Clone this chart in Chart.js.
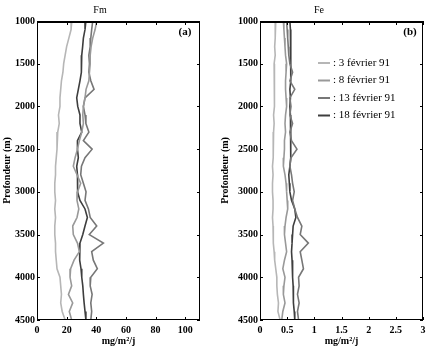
<!DOCTYPE html>
<html>
<head>
	<meta charset="UTF-8">
	<title>Fm / Fe</title>
	<script src="https://cdn.jsdelivr.net/npm/chart.js@4.4.1/dist/chart.umd.min.js"></script>
	<style>
		body { margin: 0; background: #fff; }
		#wrap { position: relative; width: 430px; height: 349px; }
		#wrap canvas { position: absolute; top: 0; }
	</style>
</head>
<body>
<div id="wrap">
	<canvas id="chart_fm" width="215" height="349" style="left:0"></canvas>
	<canvas id="chart_fe" width="215" height="349" style="left:215px"></canvas>
</div>
<script>
	// profondeurs (m), pas de 100 m
	var depths = [1000,1100,1200,1300,1400,1500,1600,1700,1800,1900,2000,2100,2200,2300,2400,2500,2600,2700,2800,2900,
		3000,3100,3200,3300,3400,3500,3600,3700,3800,3900,4000,4100,4200,4300,4400,4500];
	var dates = ['3 février 91', '8 février 91', '13 février 91', '18 février 91'];
	var colors = ['#b6b6b6', '#999999', '#777777', '#3e3e3e'];

	// Fm (mg/m2/j)
	var fm3  = [23.5,23,21.5,20,19,18,17.5,16.5,16,15.5,15.5,14.5,15,14,13.5,13.5,13,12.5,12.5,12,12,12.5,12,12.5,12,12,12.5,12.5,13,13.5,15.5,16,16.5,16,17,19];
	var fm8  = [40.3,39.2,37.6,36.5,35.9,35.9,35.4,35,33.1,32.4,31.3,30.9,31.3,30.2,28.6,27.3,25.7,24.5,27,29.5,27.3,27,28.2,27,24.1,24.5,27.3,28.6,25,22.7,22.3,23.4,21.2,24.1,21.8,23.4];
	var fm13 = [37.6,36.9,36.3,35.9,35,35.4,35,36.3,38.5,32.4,31.3,32.4,33,35,31.3,37.2,32.4,30,29.5,31.3,33.1,32.4,34.7,35.9,40.3,35.3,44.8,36.9,38,40.7,36.3,35.9,37.2,36.3,36.9,36.3];
	var fm18 = [33,32.4,31.3,30.8,30.2,29.7,30.2,29,27.9,26.8,27.5,29,29,30.2,27.3,27.3,27.9,26.8,27.3,27.5,27.3,29,32.4,34,32.4,30.9,29,28.6,29,29.7,30.2,30.9,31.3,31.8,32.4,33];

	// Fe (mg/m2/j)
	var fe3  = [0.29,0.28,0.28,0.27,0.28,0.26,0.27,0.27,0.26,0.27,0.26,0.25,0.26,0.25,0.24,0.25,0.24,0.23,0.24,0.23,0.23,0.24,0.24,0.23,0.24,0.25,0.24,0.26,0.27,0.29,0.31,0.31,0.32,0.34,0.33,0.37];
	var fe8  = [0.43,0.44,0.45,0.46,0.47,0.49,0.48,0.47,0.47,0.48,0.49,0.47,0.46,0.47,0.45,0.45,0.44,0.43,0.46,0.48,0.49,0.50,0.51,0.48,0.46,0.45,0.47,0.49,0.45,0.42,0.46,0.44,0.43,0.46,0.42,0.40];
	var fe13 = [0.49,0.50,0.51,0.52,0.53,0.55,0.60,0.55,0.64,0.55,0.57,0.55,0.60,0.55,0.58,0.68,0.57,0.55,0.58,0.60,0.63,0.60,0.64,0.69,0.77,0.74,0.89,0.74,0.77,0.80,0.71,0.72,0.69,0.72,0.69,0.71];
	var fe18 = [0.55,0.56,0.57,0.56,0.57,0.57,0.56,0.57,0.55,0.56,0.55,0.56,0.57,0.56,0.57,0.57,0.56,0.55,0.53,0.54,0.55,0.58,0.64,0.66,0.61,0.60,0.59,0.58,0.59,0.60,0.60,0.61,0.61,0.62,0.63,0.64];

	var depthTicks = [1000,1500,2000,2500,3000,3500,4000,4500];
	var fmTicks = [0,20,40,60,80,100];
	var feTicks = [0,0.5,1,1.5,2,2.5,3];

	var serif = "'Liberation Serif', 'Times New Roman', serif";

	function toPoints(values) {
		return values.map(function(v, i) { return {x: v, y: depths[i]}; });
	}

	// cadre + graduations vers l'intérieur (style matlab)
	var framePlugin = {
		id: 'frame',
		afterDraw: function(chart) {
			var a = chart.chartArea, ctx = chart.ctx;
			var xs = chart.scales.x, ys = chart.scales.y;
			ctx.save();
			ctx.strokeStyle = '#000';
			ctx.lineWidth = 1;
			ctx.strokeRect(a.left + 0.5, a.top + 0.5, a.right - a.left - 1, a.bottom - a.top - 1);
			ctx.lineWidth = 2;
			ctx.beginPath(); ctx.moveTo(a.left, a.top + 1); ctx.lineTo(a.right, a.top + 1); ctx.stroke();
			ctx.lineWidth = 1;
			ctx.beginPath();
			xs.ticks.forEach(function(t) {
				var px = Math.round(xs.getPixelForValue(t.value)) + 0.5;
				ctx.moveTo(px, a.bottom); ctx.lineTo(px, a.bottom - 3);
				ctx.moveTo(px, a.top); ctx.lineTo(px, a.top + 4);
			});
			ys.ticks.forEach(function(t) {
				var py = Math.round(ys.getPixelForValue(t.value)) + 0.5;
				ctx.moveTo(a.left, py); ctx.lineTo(a.left + 3, py);
				ctx.moveTo(a.right, py); ctx.lineTo(a.right - 3, py);
			});
			ctx.stroke();
			var letter = chart.options.plugins.frame.letter;
			ctx.fillStyle = '#000';
			ctx.font = 'bold 11px ' + serif;
			ctx.textAlign = 'center';
			ctx.textBaseline = 'middle';
			ctx.fillText(letter, a.right - chart.options.plugins.frame.letterDx, a.top + 11);
			ctx.restore();
		}
	};

	var legendPlugin = {
		id: 'dateLegend',
		afterDraw: function(chart) {
			if (!chart.options.plugins.dateLegend.show) return;
			var ctx = chart.ctx, a = chart.chartArea;
			ctx.save();
			ctx.font = '11px ' + serif;
			ctx.textAlign = 'left';
			ctx.textBaseline = 'middle';
			chart.data.datasets.forEach(function(ds, i) {
				var y = a.top + 42 + i * 17.5;
				var x0 = a.left + 58;
				ctx.strokeStyle = ds.borderColor;
				ctx.lineWidth = 2;
				ctx.beginPath(); ctx.moveTo(x0, y); ctx.lineTo(x0 + 12, y); ctx.stroke();
				ctx.fillStyle = '#000';
				ctx.fillText(': ' + ds.label, x0 + 15, y);
			});
			ctx.restore();
		}
	};

	function plainLabel(value) {
		return String(value);
	}

	function makeChart(id, title, letter, letterDx, series, xMax, xTicks, yWidth, padRight, yTitlePad, showLegend) {
		var tickFont = {family: serif, size: 10, weight: 'bold'};
		return new Chart(document.getElementById(id), {
			type: 'scatter',
			data: {
				datasets: series.map(function(s, i) {
					return {
						label: dates[i],
						data: toPoints(s),
						showLine: true,
						borderColor: colors[i],
						backgroundColor: colors[i],
						borderWidth: 1.6,
						pointRadius: 0,
						fill: false,
						tension: 0
					};
				})
			},
			options: {
				responsive: false,
				animation: false,
				layout: { padding: { left: 0, right: padRight, top: 0, bottom: 0 } },
				plugins: {
					legend: { display: false },
					tooltip: { enabled: false },
					title: {
						display: true,
						text: title,
						color: '#000',
						font: {family: serif, size: 10, weight: 'normal'},
						padding: {top: 4, bottom: 5}
					},
					frame: { letter: letter, letterDx: letterDx },
					dateLegend: { show: showLegend }
				},
				scales: {
					x: {
						type: 'linear',
						min: 0,
						max: xMax,
						afterBuildTicks: function(scale) {
							scale.ticks = xTicks.map(function(v) { return {value: v}; });
						},
						grid: { display: false, drawTicks: false },
						border: { display: false },
						ticks: { color: '#000', font: tickFont, padding: 4, autoSkip: false, maxRotation: 0, callback: plainLabel },
						title: { display: true, text: 'mg/m²/j', color: '#000', font: tickFont, padding: {top: 0, bottom: 2} },
						afterFit: function(scale) { scale.height = 29; }
					},
					y: {
						type: 'linear',
						reverse: true,
						min: 1000,
						max: 4500,
						afterBuildTicks: function(scale) {
							scale.ticks = depthTicks.map(function(v) { return {value: v}; });
						},
						grid: { display: false, drawTicks: false },
						border: { display: false },
						ticks: { color: '#000', font: tickFont, padding: 2, autoSkip: false, callback: plainLabel },
						title: { display: true, text: 'Profondeur (m)', color: '#000', font: tickFont, padding: {top: yTitlePad, bottom: 0} },
						afterFit: function(scale) { scale.width = yWidth; }
					}
				}
			},
			plugins: [framePlugin, legendPlugin]
		});
	}

	makeChart('chart_fm', 'Fm', '(a)', 15, [fm3, fm8, fm13, fm18], 110, fmTicks, 37, 15, 1, false);
	makeChart('chart_fe', 'Fe', '(b)', 13, [fe3, fe8, fe13, fe18], 3, feTicks, 45, 7, 4, true);
</script>
</body>
</html>
